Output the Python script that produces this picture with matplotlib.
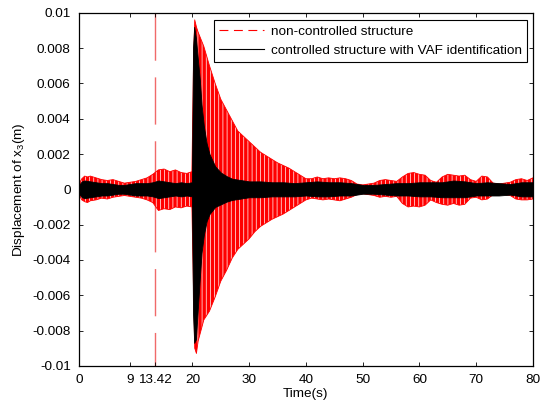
import numpy as np
import matplotlib
matplotlib.use('Agg')
import matplotlib.pyplot as plt

plt.rcParams['font.family'] = ['Liberation Sans', 'DejaVu Sans']
plt.rcParams['mathtext.fontset'] = 'custom'
plt.rcParams['mathtext.rm'] = 'Liberation Sans'
plt.rcParams['mathtext.it'] = 'Liberation Sans'
plt.rcParams['hatch.linewidth'] = 0.5

# envelope of the non-controlled response, displacement in mm
t_red = [0, 0.5, 1, 1.5, 2, 3, 4, 5, 6, 7, 8, 9, 10, 11, 12, 13, 14, 15, 16, 17, 18, 19, 19.9,
         20.2, 20.4, 20.7, 21, 21.5, 22, 23, 24, 25, 26, 27, 28, 29, 30, 31, 32, 33, 34, 35, 36,
         37, 38, 39, 40, 41, 42, 43, 44, 45, 46, 47, 48, 49, 50, 51, 52, 53, 54, 55, 56, 57, 58,
         59, 60, 61, 62, 63, 64, 65, 66, 67, 68, 69, 70, 71, 72, 73, 74, 75, 76, 77, 78, 79, 80]
red_upper = [0.3, 0.6, 0.75, 0.7, 0.75, 0.65, 0.55, 0.5, 0.55, 0.45, 0.35, 0.4, 0.45, 0.55, 0.65,
             0.85, 1.1, 1.15, 1.0, 1.1, 0.95, 0.9, 1.0,
             7.5, 9.6, 9.2, 8.9, 8.5, 8.1, 7.0, 6.0, 5.1, 4.5, 3.9, 3.3, 3.0, 2.7, 2.4, 2.1, 1.9,
             1.7, 1.5, 1.35, 1.2, 1.0, 0.8, 0.6, 0.6, 0.7, 0.6, 0.65, 0.6, 0.65, 0.6, 0.5, 0.3,
             0.25, 0.3, 0.35, 0.5, 0.55, 0.5, 0.45, 0.7, 0.9, 0.95, 0.85, 0.8, 0.5, 0.4, 0.7,
             0.85, 0.8, 0.75, 0.8, 0.55, 0.45, 0.75, 0.7, 0.35, 0.3, 0.35, 0.4, 0.55, 0.6, 0.5, 0.65]
red_lower = [-0.3, -0.6, -0.7, -0.75, -0.65, -0.6, -0.5, -0.55, -0.45, -0.4, -0.35, -0.4, -0.45,
             -0.5, -0.6, -0.75, -1.2, -1.1, -1.15, -1.0, -1.05, -0.95, -1.0,
             -6.0, -9.0, -9.3, -8.6, -8.0, -7.4, -6.9, -6.1, -5.2, -4.6, -3.9, -3.4, -3.1, -2.8,
             -2.4, -2.1, -1.9, -1.7, -1.55, -1.4, -1.2, -1.0, -0.8, -0.6, -0.5, -0.55, -0.6,
             -0.55, -0.6, -0.65, -0.55, -0.45, -0.3, -0.25, -0.3, -0.35, -0.45, -0.4, -0.45,
             -0.4, -0.8, -1.0, -0.95, -1.0, -0.9, -0.6, -0.75, -0.85, -0.9, -0.8, -0.9, -0.85,
             -0.5, -0.45, -0.6, -0.55, -0.3, -0.25, -0.3, -0.35, -0.55, -0.6, -0.6, -0.55]

# envelope of the controlled response (VAF identification), mm
t_blk = [0, 0.5, 1, 2, 3, 4, 5, 6, 7, 8, 9, 10, 11, 12, 13, 14, 15, 16, 17, 18, 19, 19.9,
         20.1, 20.3, 20.6, 21.0, 21.3, 21.6, 22.0, 22.5, 23, 24, 25, 26, 27, 28, 29, 30, 32,
         34, 36, 38, 40, 42, 44, 46, 48, 50, 52, 54, 56, 58, 60, 62, 64, 66, 68, 70, 72, 74,
         76, 78, 80]
blk_upper = [0.25, 0.45, 0.5, 0.45, 0.4, 0.35, 0.35, 0.3, 0.25, 0.25, 0.3, 0.35, 0.35, 0.35, 0.4,
             0.5, 0.45, 0.4, 0.35, 0.4, 0.35, 0.4,
             8.0, 9.2, 8.6, 7.2, 6.2, 4.8, 3.6, 2.6, 2.0, 1.3, 0.95, 0.75, 0.6, 0.55, 0.5, 0.45,
             0.45, 0.4, 0.4, 0.35, 0.4, 0.45, 0.4, 0.4, 0.35, 0.25, 0.25, 0.3, 0.35, 0.35, 0.4,
             0.4, 0.4, 0.5, 0.45, 0.35, 0.4, 0.35, 0.3, 0.4, 0.4]
blk_lower = [-0.25, -0.45, -0.5, -0.45, -0.4, -0.35, -0.35, -0.3, -0.25, -0.25, -0.3, -0.35, -0.35,
             -0.35, -0.4, -0.5, -0.45, -0.4, -0.35, -0.4, -0.35, -0.4,
             -7.0, -8.7, -8.5, -6.5, -5.0, -3.6, -2.6, -1.8, -1.4, -1.0, -0.85, -0.7, -0.6,
             -0.55, -0.5, -0.45, -0.45, -0.4, -0.4, -0.4, -0.35, -0.4, -0.4, -0.35, -0.35,
             -0.25, -0.25, -0.3, -0.35, -0.35, -0.4, -0.4, -0.45, -0.45, -0.45, -0.35, -0.35,
             -0.35, -0.3, -0.4, -0.4]

t_switch = 13.42
x_ticks = [0, 9, 13.42, 20, 30, 40, 50, 60, 70, 80]
x_ticklabels = ['0', '9', '13.42', '20', '30', '40', '50', '60', '70', '80']
y_ticks = [-0.01, -0.008, -0.006, -0.004, -0.002, 0, 0.002, 0.004, 0.006, 0.008, 0.01]
y_ticklabels = ['-0.01', '-0.008', '-0.006', '-0.004', '-0.002', '0',
                '0.002', '0.004', '0.006', '0.008', '0.01']


def main():
    fig = plt.figure(figsize=(5.41, 4.12), dpi=100)
    ax = fig.add_axes([0.146, 0.112, 0.839, 0.857])

    mm = 1e-3
    # switching instant, drawn underneath the responses
    ax.plot([t_switch, t_switch], [0.01, -0.01], color='#f06a6a', linewidth=1.0,
            linestyle=(0, (34, 12)), zorder=1)

    # dense oscillation drawn as its envelope; thin white hatch mimics the gaps between cycles
    ax.fill_between(t_red, np.array(red_lower) * mm, np.array(red_upper) * mm,
                    facecolor='red', edgecolor='white', hatch='||||', linewidth=0, zorder=2)
    ax.fill_between(t_red, np.array(red_lower) * mm, np.array(red_upper) * mm,
                    facecolor='none', edgecolor='red', linewidth=0.6, zorder=2)
    ax.fill_between(t_blk, np.array(blk_lower) * mm, np.array(blk_upper) * mm,
                    color='black', linewidth=0.6, zorder=3)

    # legend proxies
    ax.plot([], [], color='red', linestyle=(0, (8, 5)), linewidth=0.8, label='non-controlled structure')
    ax.plot([], [], color='black', linewidth=0.8, label='controlled structure with VAF identification')
    leg = ax.legend(loc='upper right', bbox_to_anchor=(0.987, 0.980), borderaxespad=0,
                    fontsize=9.7, fancybox=False, framealpha=1, edgecolor='black',
                    handlelength=3.3, handletextpad=0.5, labelspacing=0.5, borderpad=0.4)
    leg.get_frame().set_linewidth(0.8)

    ax.set_xlim(0, 80)
    ax.set_ylim(-0.01, 0.01)
    ax.set_xticks(x_ticks)
    ax.set_xticklabels(x_ticklabels)
    ax.set_yticks(y_ticks)
    ax.set_yticklabels(y_ticklabels)
    ax.tick_params(direction='in', top=True, right=True, length=3, width=0.6,
                   labelsize=9.7, pad=6)
    for s in ax.spines.values():
        s.set_linewidth(0.9)

    ax.set_xlabel('Time(s)', fontsize=9.7, labelpad=1)
    ax.set_ylabel('Displacement of x$_3$(m)', fontsize=9.7, labelpad=4)

    fig.savefig('out.png', dpi=100)


if __name__ == '__main__':
    main()
